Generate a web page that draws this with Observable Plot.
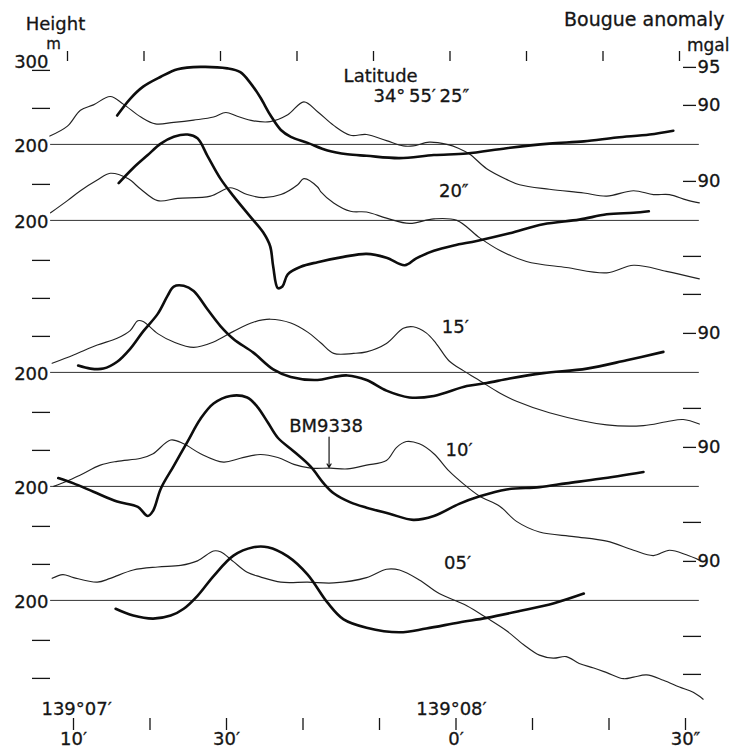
<!DOCTYPE html>
<html><head><meta charset="utf-8">
<script src="https://cdn.jsdelivr.net/npm/d3@7"></script>
<script src="https://cdn.jsdelivr.net/npm/@observablehq/plot@0.6"></script>
<style>html,body{margin:0;padding:0;background:#fff}svg{display:block}svg text{stroke:#151515;stroke-width:0.3px}</style>
</head><body><div id="chart"></div>
<script>
// x: seconds of longitude past 139°07′00″ ; heights in m ; Bouguer anomaly in mgal
const profileNames = ["25″", "20″", "15″", "10″", "05″"];

const height_25 = [[7.3,211],[9.6,224],[11.3,245],[13.0,252],[15.2,263],[16.9,253],[19.2,236],[21.1,227],[23.5,229],[26.1,232],[28.7,236],[30.3,242],[31.8,237],[33.9,231],[36.1,230],[38.4,239],[40.5,256],[42.3,243],[44.4,225],[46.6,212],[48.7,213],[51.3,205],[53.5,198],[54.8,198],[56.9,203],[59.2,200],[60.7,195],[62.2,187],[64.4,168],[67.0,154],[68.7,147],[72.6,141],[77.1,136],[80.1,132],[83.6,139],[86.2,134],[88.3,134],[90.5,127],[92.2,123]];
const bouguer_25 = [[16.1,88.8],[17.8,91.0],[19.5,92.6],[21.8,93.9],[24.0,94.9],[27.0,95.2],[30.5,95.0],[32.2,94.5],[33.5,93.1],[34.8,91.2],[36.1,88.9],[37.5,86.9],[38.8,86.0],[41.0,85.2],[43.6,84.2],[46.2,83.7],[48.7,83.5],[53.0,83.2],[57.5,83.6],[61.8,83.8],[67.0,84.5],[72.6,85.1],[77.1,85.4],[81.4,85.9],[85.7,86.3],[88.8,86.8]];

const height_20 = [[7.4,210],[9.6,226],[11.3,239],[13.5,253],[15.2,262],[17.5,255],[19.2,241],[21.4,226],[24.0,229],[28.3,232],[30.9,243],[33.1,234],[35.2,230],[37.5,234],[39.7,247],[40.5,255],[42.3,244],[42.7,238],[44.4,223],[46.6,212],[48.7,211],[51.3,203],[54.3,196],[57.5,202],[60.5,200],[63.5,177],[66.2,160],[69.6,146],[74.8,138],[80.1,131],[83.6,141],[87.9,133],[92.2,123]];
const bouguer_20 = [[16.3,89.9],[18.2,91.9],[20.1,93.6],[21.8,95.1],[23.5,96.0],[25.3,96.3],[26.6,95.8],[27.9,93.5],[29.6,90.5],[31.3,88.2],[33.5,85.5],[35.2,83.4],[36.1,81.6],[36.5,78.9],[37.1,76.1],[37.7,76.3],[38.4,77.9],[40.1,78.9],[42.3,79.5],[45.7,80.2],[48.7,80.6],[51.3,80.1],[53.7,79.1],[55.2,80.0],[57.5,81.0],[60.1,81.7],[63.1,82.3],[67.4,83.3],[71.8,84.5],[76.5,85.1],[80.1,85.8],[83.6,86.0],[85.6,86.2]];

const height_15 = [[7.6,212],[10.4,223],[13.5,236],[16.1,245],[17.8,255],[18.8,268],[19.5,267],[21.4,251],[23.5,240],[26.1,233],[28.7,240],[31.3,254],[33.9,266],[36.1,270],[38.8,265],[41.0,253],[42.7,239],[44.4,225],[47.0,225],[48.7,227],[51.3,238],[53.5,258],[54.8,260],[56.5,252],[57.8,238],[59.5,215],[61.4,202],[63.5,189],[66.1,173],[68.3,162],[72.6,147],[80.1,131],[84.9,130],[87.9,135],[90.1,138],[92.2,132]];
const bouguer_15 = [[11.0,85.9],[12.6,85.5],[14.3,85.5],[16.1,86.4],[17.8,88.1],[19.5,90.4],[21.4,92.7],[22.7,95.1],[23.5,96.3],[24.8,96.4],[26.1,95.7],[27.9,93.3],[29.6,91.1],[31.3,89.4],[33.9,87.6],[36.5,85.4],[38.8,84.4],[42.3,84.0],[44.4,84.4],[46.2,84.6],[48.7,84.0],[51.3,82.6],[54.3,81.7],[57.5,81.9],[61.8,83.2],[64.4,83.6],[67.4,84.2],[71.8,84.9],[77.5,85.5],[82.7,86.6],[87.5,87.7]];

const height_10 = [[7.8,200],[9.6,207],[11.3,215],[13.9,228],[16.1,233],[19.2,237],[20.8,243],[23.1,261],[24.8,256],[27.0,243],[30.0,232],[32.2,237],[34.8,242],[37.1,238],[39.2,229],[41.4,224],[44.0,224],[46.2,223],[48.7,228],[51.3,234],[52.6,251],[53.9,259],[55.6,256],[57.5,243],[59.5,220],[61.4,203],[63.5,187],[66.1,174],[68.3,154],[71.3,140],[75.8,134],[80.1,128],[83.6,116],[86.2,109],[88.3,116],[90.5,110],[92.2,103]];
const bouguer_10 = [[8.4,86.1],[10.4,85.4],[13.0,84.3],[16.1,83.0],[18.8,82.3],[20.1,81.1],[20.8,81.8],[21.8,84.7],[23.5,87.7],[25.3,90.9],[27.0,93.9],[28.7,95.9],[30.9,96.9],[33.1,96.7],[34.4,95.5],[35.8,93.4],[37.1,91.4],[39.2,89.6],[41.4,87.6],[43.1,85.4],[44.4,84.1],[46.6,82.9],[48.7,82.2],[51.7,81.4],[54.8,80.6],[57.5,81.1],[60.8,82.7],[63.5,83.7],[67.0,84.6],[71.3,84.9],[74.8,85.4],[79.2,86.0],[84.9,86.9]];

const height_05 = [[7.6,229],[9.0,234],[10.4,230],[13.5,224],[15.2,229],[18.2,240],[21.4,244],[24.4,246],[26.6,252],[28.7,265],[29.6,264],[31.3,251],[33.1,237],[34.8,231],[37.5,224],[41.0,224],[44.4,223],[48.7,230],[51.3,241],[53.0,240],[55.6,227],[58.2,209],[61.8,193],[64.4,177],[67.0,160],[69.2,142],[71.3,128],[73.1,124],[74.8,126],[76.5,117],[78.4,111],[80.1,105],[82.3,97],[83.6,99],[85.3,102],[87.5,95],[89.6,86],[91.4,79],[92.7,70]];
const bouguer_05 = [[15.9,83.9],[18.2,83.0],[20.8,82.6],[23.1,83.0],[24.8,83.9],[26.6,85.6],[28.7,88.2],[31.3,90.9],[33.9,92.0],[35.8,92.0],[38.4,90.8],[41.0,88.4],[43.6,84.7],[45.7,82.5],[48.7,81.4],[53.0,80.8],[56.5,81.3],[60.8,82.1],[64.4,82.7],[68.7,83.6],[73.1,84.6],[77.1,85.9]];

const profileExtent = [7.4, 92.2];           // seconds covered by the reference lines
const xTicks = [10, 20, 30, 40, 50, 60, 70, 80, 90];
const xTickLabels = {10: "10′", 30: "30′", 60: "0′", 90: "30″"};
const degreeLabels = [{s: 10.8, text: "139°07′"}, {s: 59.8, text: "139°08′"}];
const heightRef = 200;                        // m, reference line of every profile
const mgalLabeled = [[0, 95], [0, 90], [1, 90], [2, 90], [3, 90], [4, 90]];
const mgalDash = [[2, 100], [2, 95], [3, 95], [3, 80], [4, 80], [4, 75]];
const profileLabels = [
  {i: 1, text: "20″", s: 60.1, h: 239},
  {i: 2, text: "15′", s: 60.3, h: 260},
  {i: 3, text: "10′", s: 60.8, h: 247},
  {i: 4, text: "05′", s: 60.6, h: 249}
];
const latitudeLabel = [{i: 0, text: "Latitude", s: 45.7, h: 290}, {i: 0, text: "34°\u200955′\u200925″", s: 49.6, h: 264}];
const benchmark = {i: 3, text: "BM9338", s: 43.8, labelH: 279, fromH: 265, toH: 225};

// layout: vertical stacking of the profiles (m)
const stack = [0, -100, -300, -450, -600];
const mgalToY = (m, i) => 250 + (m - 90) * 10 + stack[i];

const heights = [height_25, height_20, height_15, height_10, height_05];
const bouguers = [bouguer_25, bouguer_20, bouguer_15, bouguer_10, bouguer_05];
const thin = heights.flatMap((arr, i) => arr.map(([s, h]) => ({p: profileNames[i], s, y: h + stack[i]})));
const thick = bouguers.flatMap((arr, i) => arr.map(([s, m]) => ({p: profileNames[i], s, y: mgalToY(m, i)})));

const leftLabeled = profileNames.map((_, i) => heightRef + stack[i]);
const leftDash = d3.range(300, -501, -50).filter(v => !leftLabeled.includes(v));
const rightLab = new Map(mgalLabeled.map(([i, m]) => [mgalToY(m, i), String(m)]));
const rightDash = mgalDash.map(([i, m]) => mgalToY(m, i));

const ink = "#151515";
const chart = Plot.plot({
  width: 732, height: 755,
  marginLeft: 50, marginRight: 50, marginTop: 60, marginBottom: 37,
  x: {domain: [10, 90], range: [70, 682]},
  y: {domain: [300, -500], range: [67.9, 675.9]},
  style: {fontFamily: "'DejaVu Sans', sans-serif", fontSize: "18px", color: ink, background: "#fff"},
  marks: [
    Plot.ruleY(profileNames, {y: (d, i) => heightRef + stack[i], x1: () => profileExtent[0], x2: () => profileExtent[1], stroke: "#333", strokeWidth: 1}),
    Plot.line(thin, {x: "s", y: "y", z: "p", curve: "catmull-rom", stroke: "#222", strokeWidth: 1.15}),
    Plot.line(thick, {x: "s", y: "y", z: "p", curve: "catmull-rom", stroke: "#0d0d0d", strokeWidth: 2.6}),
    Plot.axisX({anchor: "top", ticks: xTicks, tickSize: 10, tickFormat: () => "", label: null, strokeWidth: 1.3, dx: -3}),
    Plot.axisX({anchor: "bottom", ticks: xTicks, tickSize: 12, tickPadding: 2, tickFormat: d => xTickLabels[d] ?? "", label: null, strokeWidth: 1.3, dx: 3}),
    Plot.axisY({anchor: "left", ticks: leftDash, tickSize: 18, tickFormat: () => "", label: null, strokeWidth: 1.3, dy: 2}),
    Plot.axisY({anchor: "left", ticks: leftLabeled.slice(), tickSize: 0, tickPadding: 2, tickFormat: () => String(heightRef), label: null, dy: 2}),
    Plot.axisY({anchor: "left", ticks: [300], tickSize: 0, tickPadding: 2, tickFormat: () => "300", label: null, dy: -6}),
    Plot.axisY({anchor: "right", ticks: rightDash, tickSize: 18, tickFormat: () => "", label: null, strokeWidth: 1.3, dy: -2}),
    Plot.axisY({anchor: "right", ticks: [...rightLab.keys()], tickSize: 13, tickPadding: 2, tickFormat: d => rightLab.get(d), label: null, strokeWidth: 1.3, dy: -1}),
    Plot.text(profileLabels, {x: "s", y: d => d.h + stack[d.i], text: "text", textAnchor: "middle", lineAnchor: "middle", fill: ink}),
    Plot.text(latitudeLabel, {x: "s", y: d => d.h + stack[d.i], text: "text", textAnchor: "start", lineAnchor: "middle", fill: ink}),
    Plot.text([benchmark], {x: "s", y: d => d.labelH + stack[d.i], text: "text", textAnchor: "middle", lineAnchor: "middle", fill: ink, dx: -3}),
    Plot.arrow([benchmark], {x1: "s", x2: "s", y1: d => d.fromH + stack[d.i], y2: d => d.toH + stack[d.i], stroke: ink, strokeWidth: 1.2, headLength: 5}),
    Plot.text(degreeLabels, {x: "s", text: "text", frameAnchor: "bottom", dy: -9, textAnchor: "middle", lineAnchor: "middle", fill: ink}),
    Plot.text(["Height"], {frameAnchor: "top-left", dx: 5, dy: -36, textAnchor: "middle", lineAnchor: "middle", fill: ink}),
    Plot.text(["m"], {frameAnchor: "top-left", dx: 3, dy: -16, textAnchor: "middle", lineAnchor: "middle", fontSize: 15, fill: ink}),
    Plot.text(["Bougue anomaly"], {frameAnchor: "top-right", dx: 42, dy: -41, textAnchor: "end", lineAnchor: "middle", fontSize: 19, fill: ink}),
    Plot.text(["mgal"], {frameAnchor: "top-right", dx: 47, dy: -15, textAnchor: "end", lineAnchor: "middle", fontSize: 17, fill: ink})
  ]
});
document.getElementById("chart").append(chart);
</script>
</body></html>
